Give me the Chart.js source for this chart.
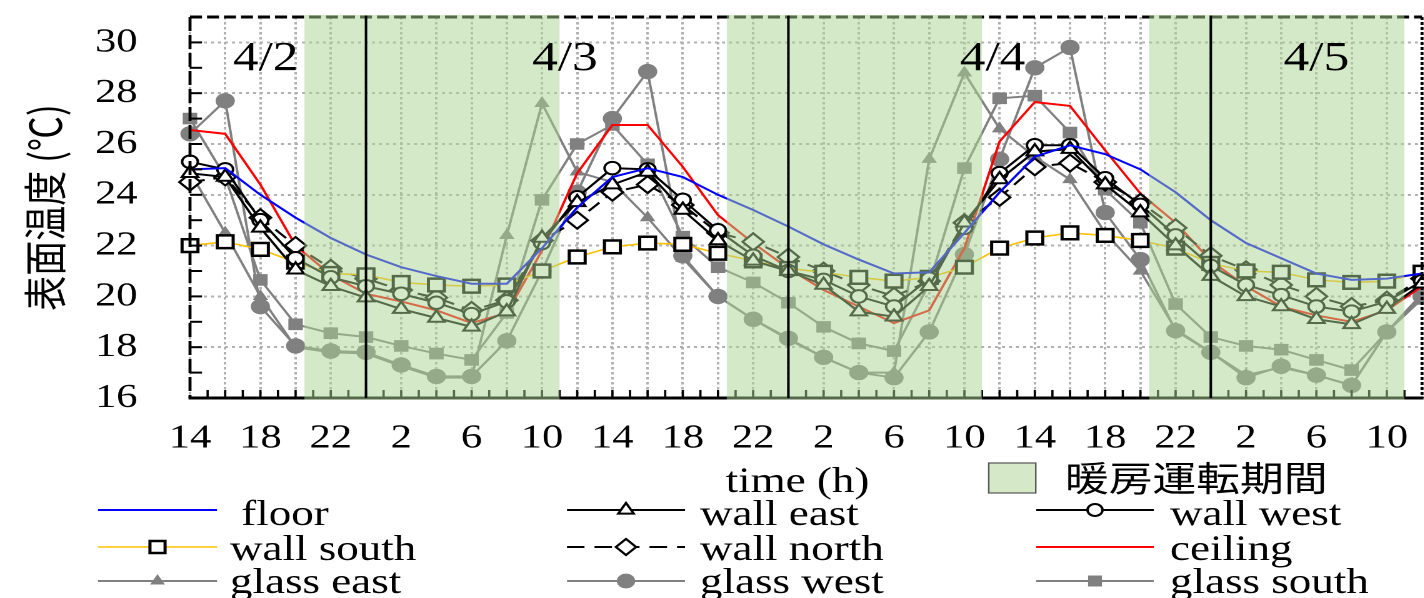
<!DOCTYPE html>
<html><head><meta charset="utf-8">
<script src="https://cdn.jsdelivr.net/npm/chart.js@4.4.1/dist/chart.umd.min.js"></script>
<style>
html,body{margin:0;padding:0;background:#fff;overflow:hidden;width:1424px;height:598px}
#wrap{position:absolute;left:0;top:0;width:1139.2px;height:598px;transform:scaleX(1.25);transform-origin:0 0}
</style></head><body>
<div id="wrap"><canvas id="c"></canvas></div>
<script>
// hours since 4/2 14:00
const hours = [0,2,4,6,8,10,12,14,16,18,20,22,24,26,28,30,32,34,36,38,40,42,44,46,48,50,52,54,56,58,60,62,64,66,68,70];
const floorT     = [25.0,25.05,24.0,23.1,22.3,21.65,21.15,20.8,20.5,20.5,21.9,23.5,24.7,25.05,24.7,24.0,23.4,22.75,22.05,21.45,20.9,20.95,22.5,24.1,25.5,25.95,25.6,25.0,24.1,23.0,22.1,21.5,20.9,20.65,20.7,20.9];
const wallEast   = [24.85,24.7,22.7,21.05,20.4,19.95,19.5,19.15,18.8,19.4,22.3,23.7,24.4,24.9,23.4,22.2,21.4,21.0,20.45,19.4,19.2,20.4,22.9,24.6,25.7,25.8,24.4,23.3,22.0,20.8,20.0,19.6,19.1,18.9,19.5,20.5];
const wallWest   = [25.3,25.0,23.0,21.5,20.75,20.4,20.1,19.75,19.3,19.8,22.1,23.9,25.05,25.0,23.8,22.6,21.6,21.0,20.65,20.0,19.6,20.7,22.7,24.85,25.95,25.95,24.65,23.6,22.4,21.2,20.45,20.05,19.6,19.4,19.8,20.6];
const wallSouth  = [22.0,22.15,21.85,21.35,20.9,20.85,20.55,20.45,20.4,20.45,21.0,21.55,21.95,22.1,22.05,21.7,21.4,21.1,20.95,20.75,20.6,20.75,21.15,21.9,22.3,22.5,22.4,22.2,21.9,21.3,21.0,20.95,20.65,20.55,20.6,20.95];
const wallNorth  = [24.5,24.7,23.1,22.0,21.1,20.7,20.25,19.95,19.45,19.85,22.2,23.0,24.1,24.4,23.6,22.5,22.15,21.55,21.0,20.45,20.0,20.6,22.9,23.9,25.1,25.25,24.5,23.7,22.7,21.6,21.05,20.45,20.0,19.6,19.85,20.7];
const ceilingT   = [26.55,26.4,24.4,22.0,20.85,20.1,19.8,19.45,18.95,19.35,21.8,24.85,26.75,26.75,25.1,23.2,22.1,21.1,20.25,19.6,18.95,19.45,21.9,26.1,27.65,27.5,25.75,24.05,22.9,21.4,20.4,19.6,19.25,19.0,19.45,20.4];
const glassEast  = [24.9,22.5,20.0,18.0,17.8,17.75,17.25,16.8,16.8,22.4,27.6,24.9,24.5,23.1,21.5,20.0,19.1,18.3,17.6,17.0,17.0,25.4,28.8,26.6,25.5,24.6,22.5,21.0,18.7,17.8,16.9,17.2,16.9,16.5,18.6,20.1];
const glassWest  = [26.4,27.7,19.6,18.05,17.85,17.8,17.3,16.85,16.85,18.25,21.0,24.1,27.0,28.85,21.6,20.0,19.1,18.35,17.6,17.0,16.8,18.6,21.65,25.4,29.0,29.8,23.3,21.45,18.65,17.8,16.8,17.25,16.9,16.5,18.6,20.0];
const glassSouth = [27.0,24.7,20.65,18.9,18.55,18.4,18.05,17.75,17.5,19.35,23.8,26.0,26.75,25.2,22.35,21.15,20.55,19.75,18.8,18.15,17.85,20.5,25.05,27.8,27.9,26.45,24.2,22.9,19.7,18.4,18.05,17.9,17.5,17.1,18.6,19.9];
const seriesNames = ['floor','wall east','wall west','wall south','wall north','ceiling','glass east','glass west','glass south'];
const heatingPeriods = [[6.5,21],[30.5,45],[54.5,69]];
const midnights = [10,34,58];
const dateLabels = ['4/2','4/3','4/4','4/5'];
const dateHours = [4.3,21.3,45.6,64.0];
const yTitle = '表面温度 (℃)';
const xTitle = 'time (h)';
const heatingLabel = '暖房運転期間';

const SERIF = '"Liberation Serif","Times New Roman",serif';
const CJK = '"Noto Sans CJK JP","Noto Sans CJK SC",sans-serif';
const pts = v => hours.map((h,i)=>({x:h,y:v[i]}));
const GRAY = '#808080';

const styles = [
  {color:'#0000ff', width:2, dash:[], marker:null},
  {color:'#000', width:2, dash:[], marker:'triangle', r:7.5, fill:'#fff', stroke:'#000', lw:2},
  {color:'#000', width:2, dash:[], marker:'circle', r:6.3, fill:'#fff', stroke:'#000', lw:2},
  {color:'#ffc000', width:1.6, dash:[], marker:'rect', r:9, fill:'#fff', stroke:'#000', lw:2.5},
  {color:'#000', width:2, dash:[12,7], marker:'rectRot', r:8.5, fill:'#fff', stroke:'#000', lw:2},
  {color:'#ff0000', width:2, dash:[], marker:null},
  {color:GRAY, width:2, dash:[], marker:'triangle', r:6.2, fill:GRAY, stroke:GRAY, lw:1},
  {color:GRAY, width:2, dash:[], marker:'circle', r:7.2, fill:GRAY, stroke:GRAY, lw:1},
  {color:GRAY, width:2, dash:[], marker:'rect', r:7.5, fill:GRAY, stroke:GRAY, lw:1}
];
const values = [floorT, wallEast, wallWest, wallSouth, wallNorth, ceilingT, glassEast, glassWest, glassSouth];

const datasets = values.map((v,i)=>{
  const s = styles[i];
  return {
    label: seriesNames[i], data: pts(v), borderColor: s.color, borderWidth: s.width, borderDash: s.dash,
    pointStyle: s.marker || 'circle', pointRadius: s.marker ? s.r : 0,
    pointBackgroundColor: s.fill, pointBorderColor: s.stroke, pointBorderWidth: s.lw || 0,
    pointHoverRadius: s.marker ? s.r : 0, tension: 0, clip: false, fill: false
  };
});

function drawMarker(ctx, style, x, y, r, fill, stroke, lw){
  ctx.save(); ctx.setLineDash([]); ctx.beginPath();
  if(style==='circle'){ ctx.arc(x,y,r,0,Math.PI*2); }
  else if(style==='rect'){ const s=r*Math.SQRT1_2; ctx.rect(x-s,y-s,2*s,2*s); }
  else if(style==='rectRot'){ ctx.moveTo(x-r,y); ctx.lineTo(x,y-r); ctx.lineTo(x+r,y); ctx.lineTo(x,y+r); ctx.closePath(); }
  else if(style==='triangle'){ ctx.moveTo(x,y-r); ctx.lineTo(x+0.866*r,y+0.5*r); ctx.lineTo(x-0.866*r,y+0.5*r); ctx.closePath(); }
  ctx.fillStyle=fill; ctx.fill();
  if(lw){ ctx.lineWidth=lw; ctx.strokeStyle=stroke; ctx.stroke(); }
  ctx.restore();
}

const decor = {
  id:'decor',
  afterDatasetsDraw(chart){
    const {ctx, chartArea:a, scales:{x,y}} = chart;
    const line=(x0,y0,x1,y1)=>{ctx.beginPath();ctx.moveTo(x0,y0);ctx.lineTo(x1,y1);ctx.stroke();};
    ctx.save();
    ctx.strokeStyle='#000';
    ctx.lineWidth=3; ctx.setLineDash([9.6,4]); line(a.left,a.top,a.right,a.top);
    ctx.lineWidth=2.4; ctx.setLineDash([14,4]); line(a.left,a.top,a.left,a.bottom);
    ctx.setLineDash([3,2]); line(a.right,a.top,a.right,a.bottom);
    ctx.setLineDash([]); ctx.lineWidth=3; line(a.left-1.2,a.bottom,a.right+1.2,a.bottom);
    ctx.lineWidth=2;
    for(let v=17; v<=30; v++){ const py=y.getPixelForValue(v); line(a.left,py,a.left+9.6,py); }
    ctx.lineWidth=1.8;
    for(let h=1; h<70; h++){ const px=x.getPixelForValue(h); line(px,a.bottom,px,a.bottom-8); }
    ctx.fillStyle='rgba(170,212,144,0.5)';
    for(const [s,e] of heatingPeriods){
      const x0=x.getPixelForValue(s), x1=x.getPixelForValue(e);
      ctx.fillRect(x0,a.top-2,x1-x0,a.bottom-a.top+3.5);
    }
    ctx.lineWidth=2;
    for(const m of midnights){ const px=x.getPixelForValue(m); line(px,a.top-1.5,px,a.bottom); }
    ctx.fillStyle='#000'; ctx.font='41px '+SERIF; ctx.textAlign='center'; ctx.textBaseline='alphabetic';
    dateLabels.forEach((t,i)=>ctx.fillText(t, x.getPixelForValue(dateHours[i]), 70));
    ctx.restore();
  },
  afterDraw(chart){
    const ctx = chart.ctx;
    const colLine = [[78.4,173.6],[453.6,548],[829,923]];
    const colText = [184,560,936];
    const rowLine = [510,547,581];
    const rowBase = [525,560,593];
    ctx.save();
    ctx.font='36px '+SERIF; ctx.fillStyle='#000'; ctx.textAlign='center'; ctx.textBaseline='alphabetic';
    ctx.fillText(xTitle, 638, 492);
    ctx.textAlign='left';
    seriesNames.forEach((name,i)=>{
      const r=Math.floor(i/3), c=i%3, s=styles[i];
      const [x0,x1]=colLine[c], yl=rowLine[r];
      ctx.strokeStyle=s.color; ctx.lineWidth=s.width; ctx.setLineDash(i===4?[14,8]:[]);
      ctx.beginPath(); ctx.moveTo(x0,yl); ctx.lineTo(x1,yl); ctx.stroke();
      if(s.marker) drawMarker(ctx,s.marker,(x0+x1)/2,yl,s.r*0.95,s.fill,s.stroke,s.lw);
      ctx.fillStyle='#000';
      ctx.fillText(name, colText[c] + (i===0?9:0), rowBase[r]);
    });
    ctx.setLineDash([]);
    ctx.fillStyle='rgb(213,233,200)'; ctx.fillRect(791,463,37.6,30);
    ctx.strokeStyle='#555'; ctx.lineWidth=1.2; ctx.strokeRect(791,463,37.6,30);
    ctx.fillStyle='#000'; ctx.font='35px '+CJK; ctx.textBaseline='middle';
    ctx.fillText(heatingLabel, 852, 478);
    ctx.restore();
  }
};

new Chart(document.getElementById('c'), {
  type:'line',
  data:{datasets},
  plugins:[decor],
  options:{
    responsive:true, maintainAspectRatio:false, animation:false, devicePixelRatio:2, events:[],
    layout:{autoPadding:false, padding:{top:17,right:1.6,bottom:0,left:0}},
    plugins:{legend:{display:false}, tooltip:{enabled:false}},
    scales:{
      x:{type:'linear', min:0, max:70, position:'bottom',
         afterFit:s=>{s.height=200; s.paddingLeft=0; s.paddingRight=0;},
         ticks:{stepSize:2, autoSkip:false, maxRotation:0, maxTicksLimit:100, padding:20, color:'#000',
                font:{family:SERIF,size:34},
                callback:v=> (v%4===0) ? String((14+v)%24) : ''},
         grid:{color:'#b0b0b0', lineWidth:2, drawTicks:false},
         border:{display:false, dash:[2.5,2.5]},
         title:{display:false}
      },
      y:{type:'linear', min:16, max:31,
         afterFit:s=>{s.width=152; s.paddingTop=0; s.paddingBottom=0;},
         ticks:{stepSize:2, includeBounds:false, padding:42, color:'#000', font:{family:SERIF,size:34}},
         grid:{color:'#b0b0b0', lineWidth:2, drawTicks:false},
         border:{display:false, dash:[2.4,3.2]},
         title:{display:true, text:yTitle, color:'#000', font:{family:CJK,size:35}, padding:{top:15,bottom:0}}
      }
    }
  }
});
</script>
</body></html>
